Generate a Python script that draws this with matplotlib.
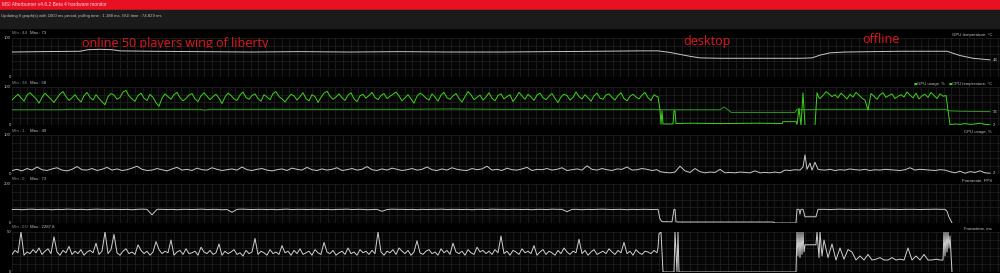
import numpy as np
import matplotlib.pyplot as plt
from matplotlib.patches import Rectangle

# x = seconds since start of the log (1 s polling)
t_online = np.arange(12, 658, 5)     # in game, online (slow series)
t_online3 = np.arange(12, 658, 3)    # in game, online (busy series)
t_offline = np.arange(820, 946, 5)   # in game, offline
t_offline3 = np.arange(820, 946, 3)

# GPU temperature, C
temp_t = [12, 40, 80, 88, 100, 112, 120, 150, 200, 250, 300, 350, 400, 450, 500,
          550, 600, 640, 658, 670, 690, 700, 720, 800, 812, 820, 830, 845, 900,
          947, 960, 973, 990]
temp_v = [64, 65, 66, 70, 71, 70, 67, 66, 65, 64, 65, 64, 65, 64, 64,
          65, 66, 67, 67, 63, 53, 49, 48, 48, 49, 56, 62, 64, 66,
          66, 55, 48, 44]

# GPU usage, %
gpu_online = [66, 74, 81, 72, 63, 79, 85, 77, 70, 58, 73, 84, 76, 68, 60, 71, 82, 88, 75, 65,
              72, 80, 69, 61, 77, 86, 73, 66, 80, 70, 62, 54, 75, 83, 79, 68, 73, 87, 91, 77,
              69, 63, 78, 84, 71, 65, 81, 73, 59, 50, 71, 82, 75, 68, 80, 86, 72, 64, 70, 79,
              83, 69, 62, 77, 85, 76, 67, 75, 81, 71, 57, 74, 84, 78, 69, 65, 79, 87, 73, 68,
              78, 82, 70, 63, 80, 74, 67, 83, 88, 75, 69, 61, 72, 81, 77, 66, 75, 85, 70, 64,
              80, 75, 60, 73, 84, 89, 76, 68, 74, 82, 72, 65, 79, 85, 69, 62, 77, 81, 71, 78,
              86, 73, 67, 78, 83, 70, 76, 81, 87, 77, 64, 72, 80, 69, 58, 76, 84, 79, 71, 66,
              82, 74, 63, 79, 86, 72, 68, 77, 83, 70, 61, 75, 88, 80, 67, 73, 79, 66, 74, 85,
              71, 64, 78, 82, 69, 75, 80, 62, 73, 86, 77, 68, 81, 74, 65, 79, 84, 72, 67, 76,
              83, 70, 60, 74, 81, 78, 66, 73, 87, 75, 69, 80, 72, 63, 77, 84, 71, 68, 79, 82,
              73, 66, 78, 85, 70, 64, 76, 81, 74, 69, 79, 86, 72, 65, 80, 75]
gpu_desk_t = [658, 660, 661, 662, 663, 673, 674, 675, 676, 690, 720, 760, 782, 783, 796,
              797, 799, 801, 803, 805, 815, 817, 819]
gpu_desk_v = [75, 40, 3, 38, 4, 4, 38, 38, 5, 6, 5, 6, 5, 10, 10,
              3, 45, 0, 85, 0, 0, 85, 72]
gpu_offline = [70, 78, 88, 82, 75, 80, 72, 84, 77, 69, 81, 74, 86, 79, 71, 66, 40, 83, 76, 68,
               80, 85, 73, 78, 82, 70, 76, 80, 74, 87, 79, 72, 84, 69, 77, 81, 73, 86, 78, 70,
               82, 76]
gpu_end_t = [946, 948, 950, 955, 960, 965, 970, 975, 980, 985, 990]
gpu_end_v = [78, 40, 2, 4, 3, 5, 3, 4, 6, 3, 2]

# CPU temperature, C
cput_t = [12, 60, 70, 200, 205, 210, 400, 450, 500, 655, 660, 720, 724, 728, 731,
          795, 797, 800, 820, 945, 950, 960, 990]
cput_v = [41, 41, 42, 42, 40, 42, 42, 43, 42, 42, 41, 41, 48, 41, 34,
          34, 42, 41, 42, 42, 38, 37, 36]

# CPU usage, %
cpu_online = [9, 12, 8, 14, 10, 18, 11, 9, 13, 16, 10, 8, 12, 19, 11, 10, 14, 9, 12, 17,
              10, 13, 9, 11, 15, 20, 12, 9, 10, 14, 11, 8, 13, 17, 10, 12, 9, 15, 11, 10,
              16, 12, 9, 11, 13, 10, 18, 11, 9, 12, 14, 10, 8, 11, 13, 9, 15, 12, 10, 17,
              11, 9, 13, 10, 12, 16, 9, 11, 14, 10, 12, 19, 11, 9, 13, 10, 15, 12, 9, 11,
              14, 10, 12, 18, 11, 9, 13, 10, 16, 12, 10, 9, 14, 11, 13, 20, 10, 12, 9, 15,
              11, 10, 13, 17, 9, 12, 11, 14, 10, 12, 16, 9, 11, 13, 10, 21, 12, 10, 14, 11,
              9, 13, 12, 18, 10, 11, 14, 12, 9, 11]
cpu_desk_t = [660, 665, 670, 675, 680, 685, 690, 695, 700, 705, 710, 715, 720, 725, 730,
              735, 740, 745, 750, 755, 760, 765, 770, 775, 780, 785, 790, 795, 800,
              803, 805, 807, 810, 812, 815, 818]
cpu_desk_v = [6, 4, 3, 5, 20, 8, 4, 14, 6, 3, 5, 4, 12, 3, 4,
              3, 5, 4, 3, 8, 3, 4, 3, 5, 3, 10, 9, 11, 10,
              18, 49, 12, 28, 10, 30, 12]
cpu_offline = [11, 10, 12, 9, 11, 10, 13, 11, 10, 12, 9, 11, 10, 12, 11, 10, 9, 11, 16, 10,
               12, 11, 10, 9, 11, 10]
cpu_end_t = [950, 955, 960, 965, 970, 975, 980, 985, 990]
cpu_end_v = [6, 3, 7, 2, 6, 4, 8, 3, 2]

# Framerate, FPS
fps_online = [69, 70, 68, 70, 71, 69, 70, 70, 68, 70, 69, 71, 70, 69, 70, 68, 70, 71, 70, 69,
              70, 70, 69, 70, 68, 70, 71, 70, 42, 70, 70, 69, 70, 68, 70, 70, 69, 70, 71, 69,
              70, 70, 68, 69, 55, 70, 71, 70, 69, 70, 70, 69, 70, 68, 70, 71, 69, 70, 70, 69,
              70, 70, 69, 70, 68, 70, 70, 71, 69, 70, 70, 68, 69, 70, 60, 69, 71, 70, 70, 69,
              70, 68, 70, 69, 70, 70, 71, 69, 70, 70, 69, 70, 68, 70, 70, 69, 71, 70, 70, 69,
              70, 70, 69, 70, 68, 70, 70, 69, 71, 70, 70, 58, 70, 70, 68, 70, 69, 70, 71, 70,
              69, 70, 70, 68, 70, 69, 70, 70, 69, 70]
fps_desk_t = [658, 660, 662, 672, 674, 675, 676, 678, 773, 775, 796, 797, 799, 800, 801,
              803, 805, 816, 818]
fps_desk_v = [70, 20, 7, 6, 70, 70, 6, 5, 5, 0, 0, 70, 70, 45, 70,
              70, 32, 32, 70]
fps_offline = [70, 70, 69, 70, 71, 70, 70, 69, 70, 70, 70, 69, 70, 71, 70, 70, 69, 70, 70, 70,
               69, 70, 70, 71, 70, 70]
fps_end_t = [947, 949, 952]
fps_end_v = [60, 30, 0]

# Frametime, ms
ft_online = [22, 27, 24, 50, 21, 25, 23, 28, 24, 30, 22, 26, 29, 23, 44, 25, 21, 27, 24, 32,
             22, 26, 23, 28, 21, 25, 27, 24, 36, 22, 26, 50, 23, 28, 47, 24, 21, 26, 29, 23,
             25, 22, 34, 27, 23, 26, 21, 25, 38, 28, 23, 26, 24, 40, 21, 25, 27, 22, 29, 23,
             24, 26, 21, 31, 25, 23, 27, 22, 24, 35, 21, 26, 23, 25, 28, 22, 24, 20, 27, 23,
             25, 42, 22, 26, 24, 21, 28, 23, 25, 22, 33, 24, 26, 21, 27, 23, 29, 22, 24, 26,
             21, 28, 24, 22, 37, 25, 23, 27, 21, 24, 26, 22, 30, 23, 25, 21, 28, 24, 26, 22,
             27, 23, 50, 25, 21, 26, 24, 28, 22, 30, 26, 23, 27, 21, 25, 39, 24, 22, 26, 28,
             23, 25, 21, 29, 24, 27, 22, 36, 25, 23, 26, 21, 28, 24, 22, 31, 25, 27, 23, 26,
             22, 28, 24, 45, 23, 26, 21, 27, 25, 22, 29, 24, 26, 23, 33, 21, 25, 28, 22, 26,
             24, 21, 27, 23, 30, 25, 22, 26, 24, 41, 23, 27, 21, 25, 28, 22, 24, 26, 23, 29,
             25, 22, 27, 24, 37, 23, 26, 21, 28, 24, 22, 26, 25, 23, 27, 24]
ft_desk_t = [658, 659, 661, 663, 674, 675, 677, 678, 679, 796, 797, 798, 799, 800, 801,
             802, 803, 804, 805, 816, 817, 819, 820, 822]
ft_desk_v = [30, 48, 50, 0, 0, 50, 0, 50, 0, 0, 50, 20, 50, 18, 50,
             22, 50, 25, 34, 34, 50, 18, 50, 20]
ft_offline_t = [824, 828, 832, 836, 840, 844, 848, 852, 856, 860, 864, 868, 872, 876, 880,
                884, 888, 892, 896, 900, 904, 908, 912, 916, 920, 924, 928, 932, 936, 940]
ft_offline_v = [40, 18, 35, 15, 30, 16, 28, 25, 15, 20, 15, 22, 15, 16, 18, 15, 15, 18, 15, 16,
                15, 30, 15, 20, 15, 22, 15, 15, 16, 15]
ft_end_t = [943, 944, 945, 946, 947, 948, 949, 950, 952]
ft_end_v = [15, 50, 20, 50, 25, 50, 30, 45, 0]

W, H = 1000, 273
RED = '#e0161e'
GREEN = '#3fd21c'
DKGREEN = '#2a9a18'
LINE = '#c8c8c8'
TXT = '#c0c0c0'
MINC = '#7f9a9a'


def join(*parts):
    t = np.concatenate([np.asarray(p[0], float) for p in parts])
    v = np.concatenate([np.asarray(p[1], float) for p in parts])
    return t, v


def fx(x):
    return x / W


def fy(y):
    return 1 - y / H


fig = plt.figure(figsize=(10, 2.73), dpi=100)
fig.patch.set_facecolor('#000000')

# window header
fig.patches.append(Rectangle((0, fy(10)), 1, 10 / H, transform=fig.transFigure,
                             color='#e81123', zorder=0))
fig.patches.append(Rectangle((0, fy(28)), 1, 18 / H, transform=fig.transFigure,
                             color='#1b1b1b', zorder=0))
small = dict(family='Liberation Sans', fontsize=3.1)
fig.text(fx(2), fy(5), 'MSI Afterburner v4.6.2 Beta 4 hardware monitor', color='#f3d6d6',
         va='center', ha='left', family='Liberation Sans', fontsize=3.5)
fig.text(fx(1), fy(16), 'Updating 6 graph(s) with 1000 ms period, polling time : 1.188 ms, '
         'GUI time : 74.829 ms', color=TXT, va='center', ha='left', **small)

panels = [
    # top, bottom, ymax, top tick, min, max, title
    (38, 77, 100, '100', '44', '73', 'GPU temperature, °C'),
    (87, 125.5, 100, '100', '36', '58', None),
    (135, 174, 100, '100', '1', '49', 'CPU usage, %'),
    (184, 223, 200, '200', '0', '73', 'Framerate, FPS'),
    (232, 272, 50, '50', '0.0', '2287.8', 'Frametime, ms'),
]

series = [
    [(join((temp_t, temp_v)), LINE)],
    [(join((cput_t, cput_v)), DKGREEN),
     (join((t_online3, gpu_online), (gpu_desk_t, gpu_desk_v), (t_offline3, gpu_offline),
           (gpu_end_t, gpu_end_v)), GREEN)],
    [(join((t_online, cpu_online), (cpu_desk_t, cpu_desk_v), (t_offline, cpu_offline),
           (cpu_end_t, cpu_end_v)), LINE)],
    [(join((t_online, fps_online), (fps_desk_t, fps_desk_v), (t_offline, fps_offline),
           (fps_end_t, fps_end_v)), LINE)],
    [(join((t_online3, ft_online), (ft_desk_t, ft_desk_v), (ft_offline_t, ft_offline_v),
           (ft_end_t, ft_end_v)), '#d0d0d0')],
]

for (top, bot, ymax, ttick, mn, mx, title), ser in zip(panels, series):
    ax = fig.add_axes([fx(12), fy(bot), fx(1000) - fx(12), (bot - top) / H])
    ax.set_facecolor('#050505')
    ax.set_xlim(12, 1000)
    ax.set_ylim(0, ymax)
    ax.set_xticks(np.arange(12, 1000, 7.7))
    ax.set_yticks(np.linspace(0, ymax, 6))
    ax.grid(True, color='#232323', lw=0.5)
    ax.tick_params(length=0, labelbottom=False, labelleft=False)
    for s in ax.spines.values():
        s.set_visible(False)
    for (t, v), c in ser:
        ax.plot(t, v, color=c, lw=0.7)
    fig.text(fx(11), fy(top), ttick, color=TXT, ha='right', va='center', **small)
    fig.text(fx(11), fy(bot), '0', color=TXT, ha='right', va='center', **small)
    fig.text(fx(12), fy(top - 4.5), 'Min : ' + mn, color=MINC, ha='left', va='center', **small)
    fig.text(fx(30), fy(top - 4.5), 'Max : ' + mx, color=TXT, ha='left', va='center', **small)
    if title:
        fig.text(fx(992), fy(top - 3), title, color=TXT, ha='right', va='center', **small)

# legend of the combined panel
fig.text(fx(914), fy(84), '■', color=GREEN, ha='left', va='center', family='DejaVu Sans', fontsize=2.5)
fig.text(fx(917), fy(84), 'GPU usage, %', color=TXT, ha='left', va='center', **small)
fig.text(fx(949), fy(84), '■', color=GREEN, ha='left', va='center', family='DejaVu Sans', fontsize=2.5)
fig.text(fx(992), fy(84), 'CPU temperature, °C', color=TXT, ha='right', va='center', **small)

# current values
for y, s in [(60, '44'), (112, '36'), (125, '2'), (173, '2')]:
    fig.text(fx(993), fy(y), s, color=TXT, ha='left', va='center', **small)

# hand-written notes
note = dict(color=RED, family='Open Sans', fontsize=9, va='baseline', ha='left')
t1 = fig.text(fx(82), fy(47.3), 'online 50 players wing of liberty', **note)
t1.set_clip_path(Rectangle((0, fy(47.6)), 1, 47.6 / H, transform=fig.transFigure))
fig.text(fx(683), fy(45.5), 'desktop', **note)
fig.text(fx(862), fy(43), 'offline', **note)

fig.savefig('out.png', dpi=100, facecolor=fig.get_facecolor())
